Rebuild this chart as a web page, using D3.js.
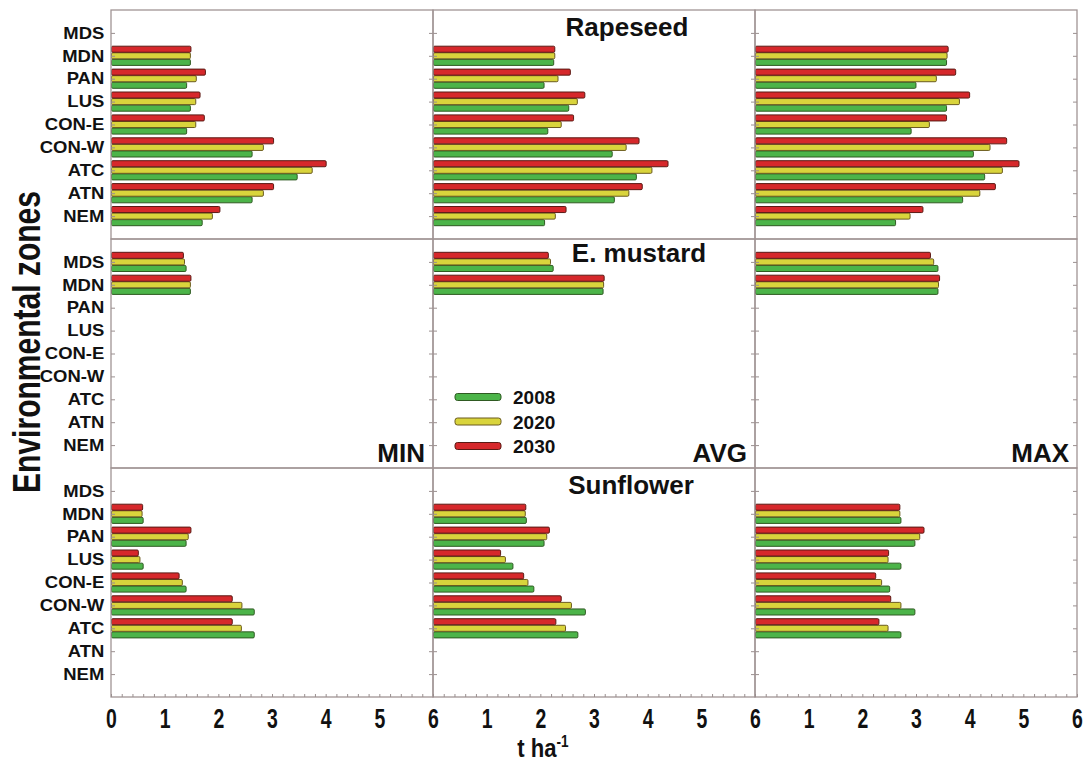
<!DOCTYPE html>
<html><head><meta charset="utf-8">
<script src="https://cdn.jsdelivr.net/npm/d3@7"></script>
<style>body{margin:0;background:#fff}</style>
</head><body><svg id="chart" width="1087" height="766"></svg>
<script>
// Categories
const zones = ["MDS","MDN","PAN","LUS","CON-E","CON-W","ATC","ATN","NEM"];
const years = ["2008","2020","2030"];
const crops = ["Rapeseed","E. mustard","Sunflower"];
const stats = ["MIN","AVG","MAX"];
const xTickValues = [0,1,2,3,4,5,6];

// Yields in t/ha, one value per zone (same order as `zones`); null = not grown
const rapeseedMin2008 = [null,1.47,1.40,1.47,1.40,2.62,3.46,2.62,1.69];
const rapeseedMin2020 = [null,1.47,1.58,1.57,1.57,2.83,3.74,2.83,1.88];
const rapeseedMin2030 = [null,1.48,1.75,1.65,1.73,3.02,4.00,3.02,2.02];
const rapeseedAvg2008 = [null,2.24,2.06,2.52,2.13,3.33,3.78,3.37,2.07];
const rapeseedAvg2020 = [null,2.26,2.32,2.68,2.38,3.59,4.07,3.64,2.27];
const rapeseedAvg2030 = [null,2.26,2.55,2.82,2.61,3.83,4.37,3.89,2.47];
const rapeseedMax2008 = [null,3.56,2.99,3.56,2.90,4.06,4.27,3.86,2.61];
const rapeseedMax2020 = [null,3.57,3.37,3.80,3.24,4.37,4.60,4.18,2.88];
const rapeseedMax2030 = [null,3.59,3.73,3.99,3.56,4.68,4.91,4.47,3.12];

const mustardMin2008 = [1.39,1.47,null,null,null,null,null,null,null];
const mustardMin2020 = [1.36,1.47,null,null,null,null,null,null,null];
const mustardMin2030 = [1.34,1.48,null,null,null,null,null,null,null];
const mustardAvg2008 = [2.23,3.16,null,null,null,null,null,null,null];
const mustardAvg2020 = [2.18,3.17,null,null,null,null,null,null,null];
const mustardAvg2030 = [2.14,3.18,null,null,null,null,null,null,null];
const mustardMax2008 = [3.40,3.40,null,null,null,null,null,null,null];
const mustardMax2020 = [3.32,3.41,null,null,null,null,null,null,null];
const mustardMax2030 = [3.26,3.43,null,null,null,null,null,null,null];

const sunflowerMin2008 = [null,0.59,1.39,0.59,1.39,2.66,2.66,null,null];
const sunflowerMin2020 = [null,0.57,1.43,0.53,1.32,2.43,2.42,null,null];
const sunflowerMin2030 = [null,0.58,1.48,0.50,1.26,2.25,2.25,null,null];
const sunflowerAvg2008 = [null,1.73,2.06,1.48,1.87,2.83,2.69,null,null];
const sunflowerAvg2020 = [null,1.71,2.11,1.34,1.76,2.57,2.46,null,null];
const sunflowerAvg2030 = [null,1.72,2.16,1.25,1.68,2.38,2.28,null,null];
const sunflowerMax2008 = [null,2.71,2.97,2.71,2.50,2.97,2.71,null,null];
const sunflowerMax2020 = [null,2.69,3.06,2.47,2.35,2.71,2.47,null,null];
const sunflowerMax2030 = [null,2.69,3.14,2.48,2.24,2.52,2.30,null,null];

// panel table: rows = crops, columns = statistics
const panelData = [
  [[rapeseedMin2008,rapeseedMin2020,rapeseedMin2030],[rapeseedAvg2008,rapeseedAvg2020,rapeseedAvg2030],[rapeseedMax2008,rapeseedMax2020,rapeseedMax2030]],
  [[mustardMin2008,mustardMin2020,mustardMin2030],[mustardAvg2008,mustardAvg2020,mustardAvg2030],[mustardMax2008,mustardMax2020,mustardMax2030]],
  [[sunflowerMin2008,sunflowerMin2020,sunflowerMin2030],[sunflowerAvg2008,sunflowerAvg2020,sunflowerAvg2030],[sunflowerMax2008,sunflowerMax2020,sunflowerMax2030]]
];

const fill = {"2008":"#4cb449","2020":"#d9d43c","2030":"#d6282b"};
const edge = {"2008":"#2f5a22","2020":"#6a5a1e","2030":"#5a1a14"};

const svg = d3.select("#chart");
const sans = "'Liberation Sans',Arial,Helvetica,sans-serif";

const gridLeft = 111, gridTop = 10, panelW = 322, panelH = 229;

const x = d3.scaleLinear().domain([0,6]).range([0,panelW]);
const y = d3.scalePoint().domain(zones).range([0,panelH]).padding(1);
// red bar on top, green at the bottom of each zone group
const inner = d3.scaleBand().domain(["2030","2020","2008"]).range([-9.6,9.6]).paddingInner(0.08);

crops.forEach((crop, r) => {
  stats.forEach((stat, c) => {
    const g = svg.append("g").attr("transform", `translate(${gridLeft + c*panelW},${gridTop + r*panelH})`);
    const series = panelData[r][c];

    // bars
    years.forEach((yr, k) => {
      const vals = series[k];
      g.append("g").selectAll("rect")
        .data(zones.map((z,i) => ({z, v: vals[i]})).filter(d => d.v != null))
        .join("rect")
        .attr("x", x(0) + 0.5)
        .attr("y", d => y(d.z) + inner(yr))
        .attr("width", d => x(d.v) - x(0))
        .attr("height", inner.bandwidth())
        .attr("rx", 1.2)
        .attr("fill", fill[yr])
        .attr("stroke", edge[yr])
        .attr("stroke-width", 1);
    });

    // category ticks on both vertical edges
    g.append("g").call(d3.axisLeft(y).tickSize(-4).tickFormat(""))
      .call(a => a.select(".domain").remove())
      .selectAll("line").attr("stroke","#9a8f8f");
    g.append("g").attr("transform",`translate(${panelW},0)`)
      .call(d3.axisRight(y).tickSize(-4).tickFormat(""))
      .call(a => a.select(".domain").remove())
      .selectAll("line").attr("stroke","#9a8f8f");

    // frame
    g.append("rect").attr("width", panelW).attr("height", panelH)
      .attr("fill","none").attr("stroke","#a09494").attr("stroke-width",1.3);

    // zone labels on the left column
    if (c === 0) {
      g.append("g").call(d3.axisLeft(y).tickSize(0).tickPadding(6))
        .call(a => a.select(".domain").remove())
        .selectAll("text")
        .attr("font-family", sans).attr("font-weight","bold")
        .attr("font-size", 16.5).attr("fill","#111")
        .attr("transform","scale(1.12,1)");
    }

    // x axis along the bottom row
    if (r === 2) {
      const minor = d3.range(0, 6.0001, 0.2);
      g.append("g").attr("transform",`translate(0,${panelH})`)
        .call(d3.axisBottom(x).tickValues(minor).tickSize(-3).tickFormat(""))
        .call(a => a.select(".domain").remove())
        .selectAll("line").attr("stroke","#9a8f8f");
      g.append("g").attr("transform",`translate(0,${panelH})`)
        .call(d3.axisBottom(x).tickValues(c === 0 ? xTickValues : xTickValues.slice(1))
          .tickSize(0).tickPadding(12).tickFormat(d3.format("d")))
        .call(a => a.select(".domain").remove())
        .selectAll("text")
        .attr("font-family", sans).attr("font-weight","bold")
        .attr("font-size", 27).attr("fill","#111")
        .attr("transform","scale(0.72,1)");
    }
  });
});

// crop titles in the middle column
const titleX = [627, 639, 631];
const titleY = [36, 262, 494];
crops.forEach((crop, r) => {
  svg.append("text").attr("x", titleX[r]).attr("y", titleY[r])
    .attr("text-anchor","middle")
    .attr("font-family", sans).attr("font-weight","bold").attr("font-size", 26)
    .attr("fill","#111").text(crop);
});

// statistic labels in the middle row
stats.forEach((s, c) => {
  svg.append("text").attr("x", gridLeft + (c+1)*panelW - 8).attr("y", gridTop + 2*panelH - 6)
    .attr("text-anchor","end")
    .attr("font-family", sans).attr("font-weight","bold").attr("font-size", 26)
    .attr("fill","#111").text(s);
});

// legend
const legend = svg.append("g").attr("transform", `translate(455,397)`);
years.forEach((yr, k) => {
  const row = legend.append("g").attr("transform", `translate(0,${k*24.5})`);
  row.append("rect").attr("x",0).attr("y",-3.5).attr("width",46).attr("height",7)
    .attr("rx",2.5).attr("fill",fill[yr]).attr("stroke",edge[yr]).attr("stroke-width",1);
  row.append("text").attr("x",58).attr("y",7)
    .attr("font-family", sans).attr("font-weight","bold").attr("font-size", 19)
    .attr("fill","#111").text(yr);
});

// axis titles
const xt = svg.append("text").attr("transform","translate(543,757) scale(0.85,1)").attr("text-anchor","middle")
  .attr("font-family", sans).attr("font-weight","bold").attr("font-size", 26).attr("fill","#111");
xt.append("tspan").text("t ha");
xt.append("tspan").attr("dy",-10).attr("font-size",16).text("-1");

svg.append("text").attr("transform","translate(40,342) rotate(-90) scale(0.79,1)")
  .attr("text-anchor","middle")
  .attr("font-family", sans).attr("font-weight","bold").attr("font-size", 38)
  .attr("fill","#111").text("Environmental zones");
</script></body></html>
